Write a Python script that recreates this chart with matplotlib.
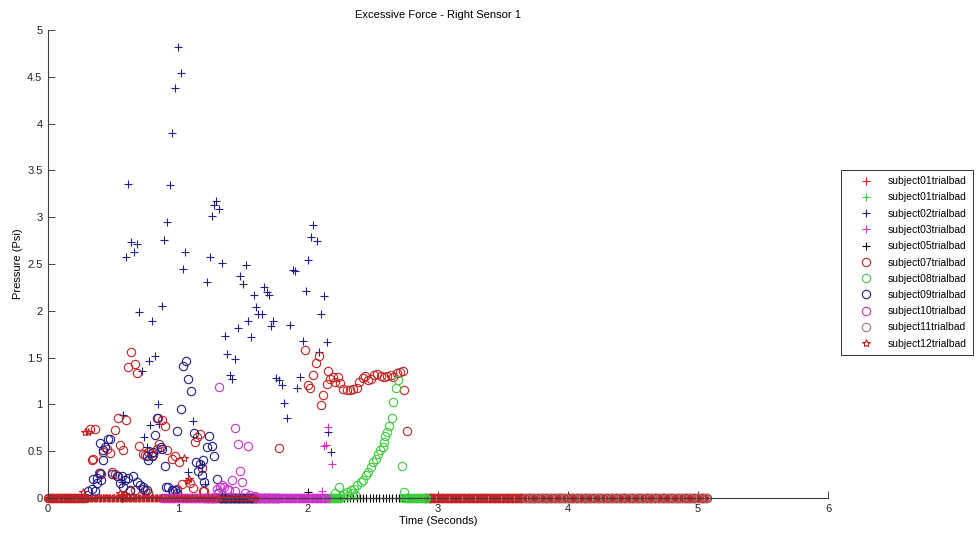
import matplotlib
matplotlib.use("Agg")
import matplotlib.pyplot as plt
import numpy as np

plt.rcParams['font.family'] = ['Liberation Sans', 'DejaVu Sans']

# sample spacing of the recorded trials (seconds)
dt = 0.01

# ---- series (time in s, pressure in psi) ----
s02_x = [0.998, 1.02, 0.977, 0.956, 0.618, 0.938, 1.292, 1.279, 1.318, 1.264, 0.918, 0.638,
         0.682, 0.892, 0.662, 0.60, 1.056, 1.038, 1.244, 1.336, 1.221, 1.523, 1.479, 1.498,
         1.585, 1.664, 1.682, 1.702, 1.882, 1.902, 2.041, 2.02, 2.067, 2.003, 1.982, 2.123,
         0.70, 0.875, 0.80, 1.597, 1.618, 1.648, 1.541, 1.731, 1.718, 1.859, 2.10, 1.459,
         1.359, 1.562, 1.959, 2.144, 2.082, 0.779, 0.823, 0.72, 1.374, 1.438, 1.40, 1.418,
         1.754, 1.775, 1.798, 1.941, 1.918, 1.818, 1.841, 0.844, 0.574, 0.856, 1.118, 0.738,
         0.759, 1.08, 1.182, 1.208, 2.177, 0.567, 0.785, 2.156]
s02_y = [4.82, 4.54, 4.38, 3.90, 3.36, 3.34, 3.17, 3.13, 3.09, 3.01, 2.95, 2.74,
         2.71, 2.76, 2.63, 2.57, 2.63, 2.45, 2.57, 2.51, 2.31, 2.49, 2.37, 2.29,
         2.17, 2.25, 2.20, 2.17, 2.44, 2.42, 2.92, 2.79, 2.75, 2.54, 2.21, 2.16,
         1.99, 2.05, 1.89, 2.04, 1.97, 1.97, 1.89, 1.89, 1.84, 1.85, 1.97, 1.82,
         1.73, 1.72, 1.68, 1.67, 1.56, 1.46, 1.52, 1.36, 1.54, 1.48, 1.31, 1.27,
         1.28, 1.26, 1.21, 1.29, 1.17, 1.02, 0.86, 1.00, 0.89, 0.79, 0.82, 0.65,
         0.55, 0.28, 0.35, 0.15, 0.49, 0.17, 0.78, 0.70]

s03_x = [2.156, 2.123, 2.138, 2.182, 2.105]
s03_y = [0.76, 0.56, 0.57, 0.36, 0.07]

s05_x = [2.0, 0.30, 0.57]
s05_y = [0.06, 0.0, 0.0]

s07_x = [0.636, 0.618, 0.669, 0.682, 0.536, 0.60, 0.362, 0.323, 0.515, 0.336, 0.349, 0.426,
         0.477, 0.451, 0.554, 0.574, 0.703, 0.728, 0.746, 0.797, 0.849, 0.874, 0.90, 0.856,
         0.772, 0.81, 0.836, 0.913, 0.95, 0.977, 1.01, 0.395, 0.408, 0.49, 0.515, 0.541,
         0.63, 0.67, 0.746, 0.772, 0.99, 1.028, 1.092, 1.118, 1.195, 1.144, 1.169, 1.13,
         1.182, 1.2, 1.777, 1.977, 2.082, 2.062, 2.041, 2.0, 2.015, 2.144, 2.118, 2.10,
         2.156, 2.169, 2.195, 2.208, 2.233, 2.246, 2.272, 2.297, 2.323, 2.349, 2.374, 2.395,
         2.421, 2.441, 2.462, 2.482, 2.508, 2.533, 2.559, 2.585, 2.605, 2.636, 2.656, 2.682,
         2.708, 2.728, 2.738, 2.759]
s07_y = [1.56, 1.40, 1.43, 1.34, 0.86, 0.83, 0.74, 0.74, 0.73, 0.41, 0.42, 0.49,
         0.48, 0.52, 0.57, 0.51, 0.56, 0.47, 0.46, 0.48, 0.85, 0.83, 0.77, 0.58,
         0.49, 0.46, 0.52, 0.51, 0.42, 0.45, 0.38, 0.27, 0.26, 0.28, 0.26, 0.23,
         0.07, 0.09, 0.09, 0.05, 0.10, 0.15, 0.16, 0.11, 0.07, 0.65, 0.68, 0.60,
         0.32, 0.07, 0.53, 1.58, 1.52, 1.44, 1.31, 1.21, 1.17, 1.22, 1.10, 0.99,
         1.36, 1.27, 1.29, 1.24, 1.29, 1.23, 1.16, 1.15, 1.15, 1.16, 1.17, 1.24,
         1.28, 1.30, 1.26, 1.27, 1.31, 1.32, 1.30, 1.29, 1.30, 1.31, 1.29, 1.34,
         1.35, 1.36, 1.15, 0.72]

s08_x = [2.21, 2.241, 2.26, 2.28, 2.297, 2.31, 2.328, 2.34, 2.354, 2.36, 2.379, 2.405,
         2.426, 2.446, 2.464, 2.482, 2.503, 2.523, 2.541, 2.554, 2.574, 2.585, 2.595, 2.61,
         2.626, 2.644, 2.656, 2.677, 2.695, 2.72, 2.738]
s08_y = [0.05, 0.12, 0.02, 0.04, 0.06, 0.02, 0.09, 0.05, 0.10, 0.03, 0.14, 0.17,
         0.19, 0.25, 0.28, 0.33, 0.38, 0.42, 0.47, 0.51, 0.55, 0.60, 0.66, 0.71,
         0.77, 0.86, 1.03, 1.18, 1.26, 0.34, 0.06]

s09_x = [1.062, 1.041, 1.079, 1.097, 1.02, 0.995, 0.823, 0.841, 0.87, 0.874, 0.81, 0.797,
         0.772, 0.764, 0.90, 0.464, 0.477, 0.438, 0.421, 0.40, 0.426, 0.349, 0.374, 0.408,
         0.336, 0.362, 0.31, 0.379, 0.40, 0.49, 0.528, 0.567, 0.592, 0.618, 0.656, 0.682,
         0.708, 0.728, 0.631, 0.554, 0.579, 0.733, 0.759, 0.908, 0.95, 0.977, 0.99, 0.925,
         0.964, 1.123, 1.241, 1.221, 1.259, 1.279, 1.138, 1.169, 1.195, 1.156, 1.182, 1.2,
         1.297, 1.31]
s09_y = [1.46, 1.41, 1.27, 1.14, 0.95, 0.72, 0.67, 0.86, 0.55, 0.52, 0.49, 0.45,
         0.41, 0.45, 0.34, 0.63, 0.63, 0.55, 0.41, 0.59, 0.51, 0.20, 0.16, 0.19,
         0.10, 0.07, 0.07, 0.21, 0.27, 0.26, 0.24, 0.23, 0.19, 0.21, 0.23, 0.17,
         0.14, 0.10, 0.09, 0.16, 0.12, 0.12, 0.09, 0.12, 0.09, 0.09, 0.05, 0.12,
         0.07, 0.69, 0.66, 0.55, 0.56, 0.45, 0.38, 0.36, 0.41, 0.29, 0.25, 0.17,
         0.20, 0.05]

s10_x = [1.318, 1.438, 1.459, 1.541, 1.477, 1.495, 1.418, 1.336, 1.356, 1.374, 1.395, 1.438,
         1.515, 1.554, 1.592, 1.30, 1.32]
s10_y = [1.19, 0.75, 0.58, 0.56, 0.29, 0.17, 0.19, 0.14, 0.12, 0.10, 0.09, 0.07,
         0.05, 0.03, 0.02, 0.10, 0.12]

s12_x = [0.285, 0.305, 0.267, 0.554, 0.567, 0.59, 1.046, 1.067, 1.087]
s12_y = [0.71, 0.71, 0.06, 0.05, 0.03, 0.04, 0.43, 0.18, 0.20]

# stretches of each trial where the sensor read zero (start, end) in seconds
s01r_zero = [(0.0, 0.88)]
s01g_zero = [(2.70, 2.92)]
s02_zero = [(1.30, 1.60)]
s03_zero = [(0.90, 2.10)]
s05_zero = [(1.55, 2.80)]
s07_zero = [(0.0, 0.30), (1.21, 1.77), (2.90, 5.08)]
s08_zero = [(2.15, 2.26), (2.74, 2.92)]
s09_zero = [(1.32, 1.60)]
s10_zero = [(0.88, 1.30), (1.60, 2.15)]
s11_zero = [(3.68, 5.08)]
s12_zero = [(0.0, 1.60)]

labels = ['subject01trialbad', 'subject01trialbad', 'subject02trialbad', 'subject03trialbad',
          'subject05trialbad', 'subject07trialbad', 'subject08trialbad', 'subject09trialbad',
          'subject10trialbad', 'subject11trialbad', 'subject12trialbad']

RED = '#e02222'
DRED = '#c42222'
GREEN = '#3ccc3c'
BLUE = '#20208c'
MAG = '#cc33cc'


def trial(xs, ys, spans, step):
    # nonzero samples plus the zero readings over the given stretches
    t = list(xs)
    p = list(ys)
    for a, b in spans:
        z = np.arange(a, b, step)
        t += list(z)
        p += [0.0] * len(z)
    return np.array(t), np.array(p)


fig = plt.figure(figsize=(9.79, 5.33), dpi=100)
ax = fig.add_axes([48 / 979, 1 - 498 / 533, 780 / 979, 468 / 533])

series = [
    ([], [], s01r_zero, dt, '+', RED, labels[0]),
    ([], [], s01g_zero, dt, '+', GREEN, labels[1]),
    (s02_x, s02_y, s02_zero, dt, '+', BLUE, labels[2]),
    (s03_x, s03_y, s03_zero, dt, '+', MAG, labels[3]),
    (s05_x, s05_y, s05_zero, 0.025, '+', 'black', labels[4]),
    (s07_x, s07_y, s07_zero, dt, 'o', DRED, labels[5]),
    (s08_x, s08_y, s08_zero, dt, 'o', GREEN, labels[6]),
    (s09_x, s09_y, s09_zero, dt, 'o', BLUE, labels[7]),
    (s10_x, s10_y, s10_zero, dt, 'o', MAG, labels[8]),
    ([], [], s11_zero, 0.06, 'o', '#a07878', labels[9]),
    (s12_x, s12_y, s12_zero, 0.03, '*', DRED, labels[10]),
]

for xs, ys, spans, step, mk, col, lab in series:
    t, p = trial(xs, ys, spans, step)
    ax.plot(t, p, linestyle='none', marker=mk, markersize=6, markeredgewidth=0.8,
            markeredgecolor=col, markerfacecolor='none', label=lab, clip_on=False)

ax.set_xlim(0, 6)
ax.set_ylim(0, 5)
ax.set_xticks(range(0, 7))
ax.set_yticks(np.arange(0, 5.01, 0.5))
ax.set_yticklabels(['0', '0.5', '1', '1.5', '2', '2.5', '3', '3.5', '4', '4.5', '5'])
ax.spines['top'].set_visible(False)
ax.spines['right'].set_visible(False)
for s in ('left', 'bottom'):
    ax.spines[s].set_color('#404040')
    ax.spines[s].set_linewidth(0.8)
ax.tick_params(direction='in', length=5, width=0.7, color='#404040',
               labelsize=8, labelcolor='#222222', pad=4)

ax.set_title('Excessive Force - Right Sensor 1', fontsize=8, pad=9)
ax.set_xlabel('Time (Seconds)', fontsize=8, labelpad=2)
ax.set_ylabel('Pressure (Psi)', fontsize=8, labelpad=3)

leg = fig.legend(loc='upper left', bbox_to_anchor=(841 / 979, 1 - 170 / 533),
                 fontsize=7.5, numpoints=1, frameon=True, fancybox=False,
                 borderpad=0.6, handlelength=3.6, handletextpad=0.3,
                 labelspacing=0.6, borderaxespad=0)
leg.get_frame().set_edgecolor('black')
leg.get_frame().set_linewidth(0.7)

fig.savefig('out.png', dpi=100)
